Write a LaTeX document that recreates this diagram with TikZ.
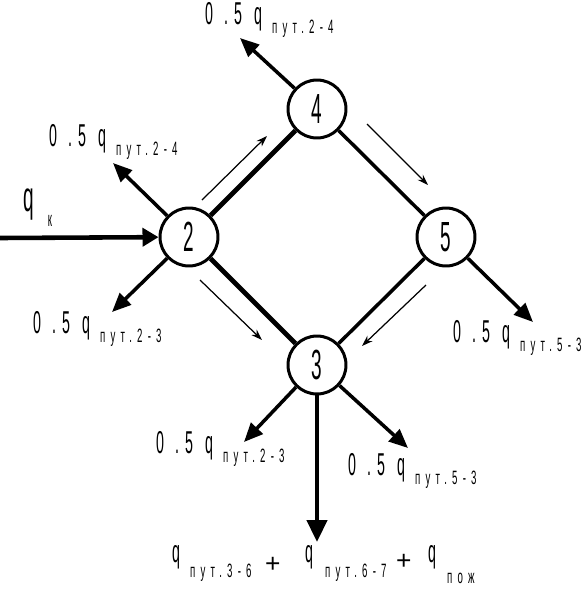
\documentclass[tikz,border=0pt]{standalone}
\usepackage{fontspec}
\newfontfamily\numfont[FakeStretch=0.45]{Liberation Sans}
\newfontfamily\plusfont{Liberation Sans}
\newfontfamily\subfont[FakeStretch=0.5,LetterSpace=27]{Liberation Sans}
\usetikzlibrary{arrows.meta}

\newlength\pxu \setlength\pxu{0.02cm}
\newcommand{\putat}[2]{\rlap{\hspace{#1\pxu}#2}}
\newcommand{\bigtxt}[1]{{\fontsize{18}{18}\selectfont\numfont #1}}
\newcommand{\subtxt}[1]{{\fontsize{11}{11}\selectfont\subfont #1}}
\newcommand{\plustxt}{{\fontsize{15}{15}\selectfont\plusfont +}}
\newcommand{\flowlbl}[1]{\putat{0}{\bigtxt{0}}\putat{19}{\bigtxt{.}}\putat{29}{\bigtxt{5}}%
  \putat{49}{\bigtxt{q}}\putat{67}{\raisebox{-5.5pt}{\subtxt{#1}}}\hspace{125\pxu}}

\begin{document}
\begin{tikzpicture}[
    x=0.02cm, y=-0.02cm,
    vertex/.style={circle, draw, line width=1.7pt, minimum size=1.16cm, inner sep=0pt,
                   font=\numfont\fontsize{24}{24}\selectfont},
    pipe/.style={line width=2pt},
    mainpipe/.style={line width=2.8pt},
    outflow/.style={line width=2pt, -{Triangle[length=0.38cm,width=0.32cm]}},
    dirarr/.style={line width=0.7pt, -{Stealth[length=0.22cm,width=0.15cm]}},
    lbl/.style={anchor=base west, inner sep=0pt},
  ]
  \useasboundingbox (0,0) rectangle (588,593);
  % Ring nodes
  \node[vertex] (n2) at (189,237) {2};
  \node[vertex] (n4) at (317,109) {4};
  \node[vertex] (n5) at (446,237) {5};
  \node[vertex] (n3) at (317,365) {3};
  % Ring pipes
  \draw[mainpipe] (n2) -- (n4);
  \draw[mainpipe] (n2) -- (n3);
  \draw[pipe] (n4) -- (n5);
  \draw[pipe] (n5) -- (n3);
  % Flow directions along the pipes
  \coordinate (d24a) at (202,200); \coordinate (d24b) at (267,136);
  \coordinate (d45a) at (367,124); \coordinate (d45b) at (428,185);
  \coordinate (d23a) at (200,280); \coordinate (d23b) at (262,340);
  \coordinate (d53a) at (426,285); \coordinate (d53b) at (362,346);
  \draw[dirarr] (d24a) -- (d24b);
  \draw[dirarr] (d45a) -- (d45b);
  \draw[dirarr] (d23a) -- (d23b);
  \draw[dirarr] (d53a) -- (d53b);
  % Inflow
  \coordinate (qin) at (0,238);
  \draw[line width=2.6pt, -{Triangle[length=0.32cm,width=0.36cm]}] (qin) -- (n2);
  % Outflows
  \coordinate (o4) at (240,38);
  \coordinate (o2u) at (113,163);
  \coordinate (o2d) at (112,312);
  \coordinate (o5) at (533,322);
  \coordinate (o3l) at (244,442);
  \coordinate (o3r) at (408,448);
  \coordinate (o3d) at (317,542);
  \draw[outflow] (n4) -- (o4);
  \draw[outflow] (n2) -- (o2u);
  \draw[outflow] (n2) -- (o2d);
  \draw[outflow] (n5) -- (o5);
  \draw[outflow] (n3) -- (o3l);
  \draw[outflow] (n3) -- (o3r);
  \draw[line width=2.6pt, -{Triangle[length=0.44cm,width=0.4cm]}] (n3) -- (o3d);
  % Labels
  \node[lbl] (lqk) at (23,211) {{\numfont\fontsize{24}{24}\selectfont q}\hspace{8pt}%
    \raisebox{-9pt}{{\fontsize{12}{12}\selectfont\numfont к}}};
  \node[lbl] (l4) at (204,24) {\flowlbl{пут.2-4}};
  \node[lbl] (l2u) at (48,146) {\flowlbl{пут.2-4}};
  \node[lbl] (l2d) at (32,333) {\flowlbl{пут.2-3}};
  \node[lbl] (l5) at (452,342) {\flowlbl{пут.5-3}};
  \node[lbl] (l3l) at (155,453) {\flowlbl{пут.2-3}};
  \node[lbl] (l3r) at (347,475) {\flowlbl{пут.5-3}};
  \node[lbl] (l3d) at (171,562) {\putat{0}{\bigtxt{q}}\putat{18}{\raisebox{-9pt}{\subtxt{пут.3-6}}}%
    \putat{93}{\raisebox{-6pt}{\plustxt}}\putat{133}{\bigtxt{q}}%
    \putat{153}{\raisebox{-9pt}{\subtxt{пут.6-7}}}\putat{224}{\raisebox{-4pt}{\plustxt}}%
    \putat{256}{\bigtxt{q}}\putat{275}{\raisebox{-12pt}{\subtxt{пож}}}\hspace{310\pxu}};
\end{tikzpicture}
\end{document}
